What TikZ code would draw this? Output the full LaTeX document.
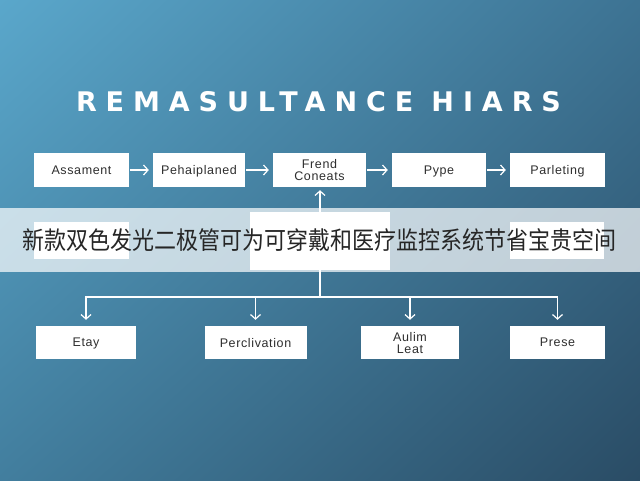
\documentclass[tikz,border=0pt]{standalone}
\usepackage{fontspec}
\setmainfont{Liberation Sans}
\newfontfamily\titlefont{DejaVu Sans}
\newfontfamily\cjk{Noto Sans CJK SC}
\usetikzlibrary{arrows.meta,shadings}
\definecolor{bgtl}{HTML}{5AA7CB}
\definecolor{bgtr}{HTML}{3D7393}
\definecolor{bgbl}{HTML}{427E9E}
\definecolor{bgbr}{HTML}{2A4C65}
\definecolor{boxtext}{HTML}{2E2E2E}
\definecolor{captext}{HTML}{262626}

\begin{document}
\begin{tikzpicture}[x=1pt, y=-1pt,
    box/.style={fill=white, inner sep=0pt, align=center, text=boxtext, text depth=0pt,
        font=\fontsize{12.5}{12}\selectfont\addfontfeature{LetterSpace=5}},
    link/.style={white, line width=1.2pt, -{Straight Barb[length=4.5pt,width=10pt]}}]
    \useasboundingbox (0,0) rectangle (640,480);
    % Background
    \shade[upper left=bgtl, upper right=bgtr, lower left=bgbl, lower right=bgbr]
        (0,0) rectangle (640,480);
    % Title
    \node[text=white, font=\titlefont\fontsize{27}{27}\selectfont\bfseries\addfontfeature{LetterSpace=33}]
        (title) at (318.5,101.5) {REMASULTANCE HIARS};

    % Top row
    \node[box, minimum width=95pt, minimum height=34pt] (t1) at (81.5,170) {Assament};
    \node[box, minimum width=92pt, minimum height=34pt] (t2) at (199,170) {Pehaiplaned};
    \node[box, minimum width=93pt, minimum height=34pt] (t3) at (319.5,170) {Frend\\Coneats};
    \node[box, minimum width=94pt, minimum height=34pt] (t4) at (439,170) {Pype};
    \node[box, minimum width=95pt, minimum height=34pt] (t5) at (557.5,170) {Parleting};
    % Top row edges
    \draw[link, shorten <=1pt, shorten >=4pt] (t1) -- (t2);
    \draw[link, shorten <=1pt, shorten >=4pt] (t2) -- (t3);
    \draw[link, shorten <=1pt, shorten >=4pt] (t3) -- (t4);
    \draw[link, shorten <=1pt, shorten >=4pt] (t4) -- (t5);

    % Middle row (under the banner)
    \node[box, minimum width=95pt, minimum height=37pt] (h1) at (81.5,240.5) {};
    \node[box, minimum width=140pt, minimum height=58pt] (h2) at (320,241) {};
    \node[box, minimum width=94pt, minimum height=37pt] (h3) at (557,240.5) {};
    \draw[link, shorten >=3pt] (h2.north) -- (h2.north |- t3.south);

    % Bottom row
    \node[box, minimum width=100pt, minimum height=33pt] (b1) at (86,342.5) {Etay};
    \node[box, minimum width=102pt, minimum height=33pt] (b2) at (255.5,342.5) {Perclivation};
    \node[box, minimum width=98pt, minimum height=33pt] (b3) at (410,342.5) {Aulim\\Leat};
    \node[box, minimum width=95pt, minimum height=33pt] (b4) at (557.5,342.5) {Prese};
    % Bottom edges
    \coordinate (fork) at (320,297);
    \draw[white, line width=1.2pt] (h2.south) -- (fork);
    \draw[link, shorten >=6pt] (fork) -| (b1);
    \draw[link, shorten >=6pt] (fork) -| (b2);
    \draw[link, shorten >=6pt] (fork) -| (b3);
    \draw[link, shorten >=6pt] (fork) -| (b4);

    % Banner
    \fill[white, opacity=0.7] (0,208) rectangle (640,272);
    \node[text=captext, font=\cjk\fontsize{22}{22}\selectfont] (caption) at (320,240)
        {\scalebox{1}[1.12]{新款双色发光二极管可为可穿戴和医疗监控系统节省宝贵空间}};
\end{tikzpicture}
\end{document}
